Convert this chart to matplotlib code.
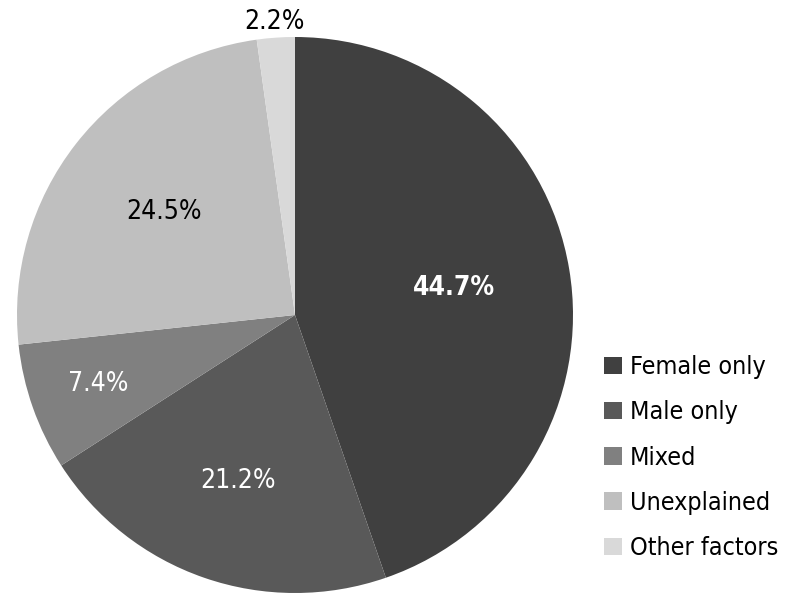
import matplotlib.pyplot as plt
import numpy as np
from matplotlib.patches import Patch

plt.rcParams['font.family'] = ['DejaVu Sans']
plt.rcParams['font.stretch'] = 'condensed'

# data
categories = ["Female only", "Male only", "Mixed", "Unexplained", "Other factors"]
shares = [44.7, 21.2, 7.4, 24.5, 2.2]
colors = ["#404040", "#595959", "#808080", "#bfbfbf", "#d9d9d9"]
label_colors = ["white", "white", "white", "black", "black"]
label_weights = ["bold", "normal", "normal", "normal", "normal"]
label_dist = [0.58, 0.63, 0.75, 0.60, 1.055]

fig = plt.figure(figsize=(7.92, 6.07), dpi=100)
R = 278
cx, cy = 295, 315
ax = fig.add_axes([(cx - R) / 792, (607 - cy - R) / 607, 2 * R / 792, 2 * R / 607])

wedges, _ = ax.pie(shares, colors=colors, startangle=90, counterclock=False,
                   radius=1, wedgeprops=dict(linewidth=0))
ax.set_xlim(-1, 1)
ax.set_ylim(-1, 1)
ax.set_aspect('equal')
ax.axis('off')

# percent labels
for w, s, c, fw, d in zip(wedges, shares, label_colors, label_weights, label_dist):
    ang = np.deg2rad((w.theta1 + w.theta2) / 2)
    ax.text(d * np.cos(ang), d * np.sin(ang), f"{s}%", ha='center', va='center',
            color=c, fontweight=fw, fontsize=19)

handles = [Patch(facecolor=c, edgecolor='none') for c in colors]
fig.legend(handles, categories, loc='upper left', bbox_to_anchor=(594 / 792, 1 - 345 / 607),
           frameon=False, fontsize=18, handlelength=0.7, handleheight=0.7,
           handletextpad=0.35, labelspacing=0.85, borderaxespad=0)

fig.savefig("out.png", dpi=100)
